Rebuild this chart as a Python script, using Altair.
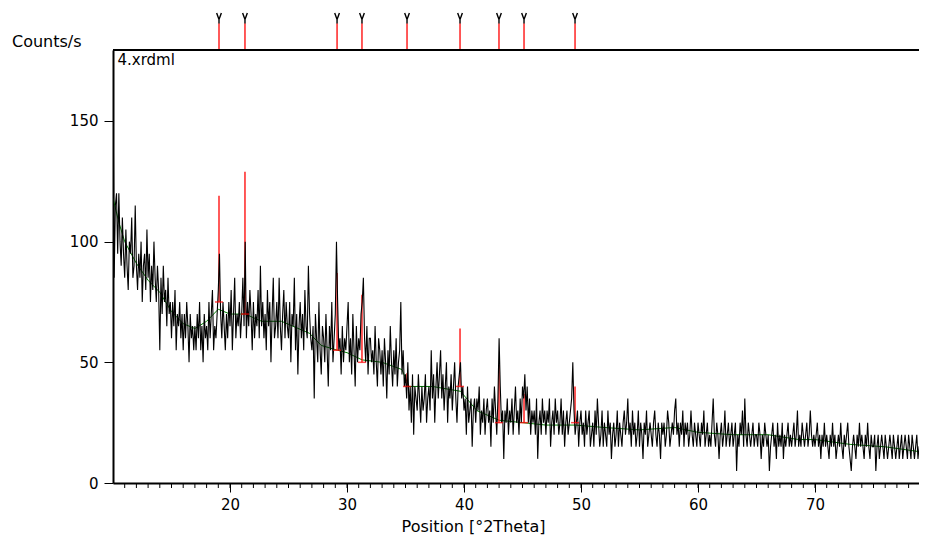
import altair as alt
import pandas as pd

# ---------------- data ----------------
start_2theta = 10.0
step_2theta = 0.1
counts = [
    170, 85, 115, 120, 95, 120, 100, 90, 110, 95,
    85, 105, 90, 80, 100, 95, 110, 85, 90, 115,
    90, 80, 95, 85, 100, 75, 90, 95, 80, 105,
    85, 95, 75, 90, 80, 100, 85, 75, 90, 80,
    55, 85, 70, 90, 75, 80, 65, 85, 70, 75,
    60, 75, 65, 80, 55, 70, 65, 75, 60, 70,
    55, 70, 60, 75, 65, 50, 70, 60, 65, 55,
    65, 55, 70, 60, 75, 55, 65, 50, 70, 60,
    65, 55, 75, 60, 70, 80, 55, 65, 60, 70,
    80, 95, 70, 60, 75, 65, 55, 70, 60, 75,
    65, 80, 55, 70, 85, 60, 70, 65, 75, 60,
    70, 85, 65, 100, 60, 75, 65, 80, 70, 55,
    75, 60, 70, 65, 80, 60, 90, 65, 75, 60,
    70, 55, 80, 65, 75, 50, 70, 85, 60, 65,
    75, 60, 85, 65, 55, 70, 80, 60, 75, 65,
    60, 75, 50, 70, 65, 85, 55, 70, 45, 65,
    75, 60, 70, 55, 80, 65, 60, 90, 70, 60,
    55, 65, 35, 70, 60, 50, 75, 55, 45, 65,
    60, 50, 70, 55, 40, 65, 55, 75, 50, 60,
    70, 100, 75, 55, 60, 45, 65, 50, 60, 55,
    65, 75, 50, 60, 45, 70, 55, 40, 65, 50,
    60, 55, 70, 75, 85, 60, 50, 65, 45, 60,
    60, 50, 55, 45, 65, 50, 40, 60, 55, 45,
    55, 40, 60, 50, 35, 55, 45, 65, 50, 40,
    55, 45, 60, 40, 50, 55, 75, 45, 55, 40,
    45, 35, 50, 30, 40, 25, 45, 20, 40, 35,
    30, 45, 35, 25, 40, 30, 35, 45, 25, 35,
    40, 30, 55, 35, 45, 25, 40, 50, 35, 45,
    55, 35, 45, 30, 40, 50, 25, 40, 35, 45,
    30, 40, 50, 35, 25, 40, 45, 50, 35, 40,
    30, 35, 20, 40, 25, 30, 35, 15, 30, 35,
    25, 35, 30, 40, 20, 30, 25, 35, 20, 30,
    35, 25, 30, 15, 35, 25, 40, 30, 20, 35,
    60, 40, 25, 30, 10, 30, 25, 35, 20, 30,
    25, 35, 20, 30, 40, 25, 30, 20, 35, 25,
    40, 35, 45, 30, 40, 25, 35, 20, 30, 25,
    30, 20, 35, 10, 25, 30, 20, 35, 25, 30,
    20, 30, 25, 35, 15, 25, 30, 20, 35, 25,
    30, 20, 25, 35, 20, 30, 15, 25, 30, 20,
    25, 30, 35, 50, 30, 20, 25, 30, 15, 25,
    30, 20, 25, 15, 30, 20, 25, 30, 15, 20,
    25, 15, 30, 20, 35, 25, 15, 20, 30, 15,
    25, 20, 15, 30, 20, 25, 10, 20, 25, 15,
    20, 30, 15, 25, 20, 15, 25, 30, 20, 25,
    35, 20, 25, 15, 30, 20, 25, 15, 20, 30,
    15, 25, 20, 10, 25, 20, 30, 15, 20, 25,
    20, 15, 25, 30, 20, 15, 25, 20, 10, 25,
    20, 25, 15, 20, 30, 25, 15, 20, 25, 20,
    30, 35, 20, 25, 15, 25, 20, 30, 15, 25,
    20, 25, 15, 20, 30, 20, 15, 25, 20, 15,
    25, 20, 15, 25, 20, 30, 15, 20, 25, 15,
    20, 15, 25, 35, 20, 15, 25, 20, 10, 20,
    25, 15, 20, 30, 15, 20, 25, 15, 20, 25,
    15, 20, 25, 5, 20, 15, 25, 20, 30, 15,
    35, 20, 15, 25, 20, 15, 20, 25, 15, 20,
    20, 15, 25, 20, 10, 20, 15, 25, 20, 15,
    20, 5, 15, 20, 25, 15, 20, 10, 25, 15,
    20, 15, 25, 10, 20, 15, 20, 25, 15, 20,
    15, 20, 25, 15, 20, 30, 15, 20, 15, 25,
    20, 15, 20, 25, 15, 20, 30, 20, 15, 20,
    15, 20, 25, 15, 20, 10, 20, 15, 25, 15,
    20, 15, 10, 20, 15, 25, 15, 20, 10, 15,
    20, 15, 25, 15, 10, 20, 15, 20, 25, 15,
    10, 5, 15, 20, 15, 10, 20, 15, 25, 15,
    20, 15, 10, 20, 15, 25, 15, 10, 20, 15,
    15, 20, 5, 15, 20, 10, 15, 20, 15, 10,
    20, 15, 10, 15, 20, 15, 10, 20, 15, 10,
    15, 20, 10, 15, 20, 10, 15, 20, 15, 10,
    20, 15, 10, 20, 15, 10, 15, 20, 10, 15,
    15, 10, 20, 15, 10, 15, 20,
]

bg_pos = [10.0, 10.5, 11.0, 12.0, 13.0, 14.0, 15.0, 16.0, 17.0, 18.0, 19.0, 20.0,
          21.3, 22.7, 24.4, 26.8, 27.8, 29.2, 30.0, 31.3, 33.0, 34.7, 35.3, 37.3,
          39.7, 41.1, 43.0, 45.0, 47.0, 49.5, 52.0, 55.0, 58.0, 60.0, 63.0, 66.0,
          68.6, 70.0, 73.0, 76.0, 78.9, 80.0]
bg_counts = [118, 108, 100, 91, 84, 79, 71, 66, 64, 67, 72, 70,
             70, 67, 67, 62, 57, 55, 54, 51, 50, 47, 40, 40,
             38, 30, 26, 25, 24, 24, 23, 22, 23, 21, 20, 20,
             18, 18, 16, 15, 13, 13]

peak_pos = [19.06, 21.28, 29.15, 31.28, 35.13, 39.66, 42.99, 45.13, 49.49]
peak_top = [119, 129, 87, 78, 45.5, 64, 49, 37, 40]
peak_base = [75, 70, 55, 50, 40, 40, 25, 25, 25]

x_major = [20, 30, 40, 50, 60, 70]
x_minor = list(range(11, 79))
y_ticks = [0, 50, 100, 150]

W, H = 806, 433
X_MAX = 10 + W / 11.7
Y_MAX = 179.4

# ---------------- tables ----------------
scan = pd.DataFrame({
    "pos": [start_2theta + i * step_2theta for i in range(len(counts))],
    "counts": counts,
})
bg = pd.DataFrame({"pos": bg_pos, "counts": bg_counts})
peaks = pd.DataFrame({
    "pos": peak_pos, "top": peak_top, "base": peak_base,
    "mark_lo": [Y_MAX] * len(peak_pos),
    "mark_hi": [190.5] * len(peak_pos),
    "glyph": [192.6] * len(peak_pos),
})
minor = pd.DataFrame({"pos": x_minor})
one = pd.DataFrame({"name": ["4.xrdml"]})

FONT = "DejaVu Sans"
xs = alt.Scale(domain=[10, X_MAX], nice=False, zero=False)
ys = alt.Scale(domain=[0, Y_MAX], nice=False)

x_axis = alt.Axis(values=x_major, format="d", tickSize=9, tickWidth=1, labelPadding=5,
                  grid=False, domainWidth=2, domainColor="black", tickColor="black",
                  labelFontSize=15, labelFont=FONT, labelColor="black",
                  title="Position [°2Theta]", titleFontSize=16, titleFont=FONT,
                  titleFontWeight="normal", titleColor="black",
                  titleX=360, titleY=48, titleAnchor="start", titleAlign="center",
                  titleBaseline="alphabetic")
y_axis = alt.Axis(values=y_ticks, tickSize=9, tickWidth=1, labelPadding=6, grid=False,
                  domainWidth=2, domainColor="black", tickColor="black",
                  labelFontSize=15, labelFont=FONT, labelColor="black",
                  title="Counts/s", titleFontSize=16, titleFont=FONT,
                  titleFontWeight="normal", titleColor="black", titleAngle=0,
                  titleX=-101.5, titleY=-3.5, titleAlign="left",
                  titleBaseline="alphabetic", titleAnchor="start")

background = alt.Chart(bg).mark_line(color="#008000", strokeWidth=1, clip=True).encode(
    x=alt.X("pos:Q", scale=xs, axis=x_axis),
    y=alt.Y("counts:Q", scale=ys, axis=y_axis),
)

sticks = alt.Chart(peaks).mark_rule(color="#ff0000", strokeWidth=1.3).encode(
    x="pos:Q", y="top:Q", y2="base:Q")
bases = alt.Chart(peaks).mark_tick(color="#ff0000", orient="horizontal", size=8,
                                   thickness=1.5).encode(x="pos:Q", y="base:Q")

line = alt.Chart(scan).mark_line(color="black", strokeWidth=1.1, clip=True).encode(
    x="pos:Q", y="counts:Q")

top_rules = alt.Chart(peaks).mark_rule(color="#ff0000", strokeWidth=1.3).encode(
    x="pos:Q", y="mark_lo:Q", y2="mark_hi:Q")
glyphs = alt.Chart(peaks).mark_point(
    shape="M-0.45,-1L0,0.25L0.45,-1M0,0.25L0,1", size=110, filled=False,
    stroke="black", strokeWidth=1.4, opacity=1).encode(x="pos:Q", y="glyph:Q")

top_line = alt.Chart(one).mark_rule(color="black", strokeWidth=2).encode(
    x=alt.value(0), x2=alt.value(W), y=alt.value(0))

minor_ticks = alt.Chart(minor).mark_rule(color="black", strokeWidth=1).encode(
    x="pos:Q", y=alt.value(H), y2=alt.value(H + 5))

label = alt.Chart(one).mark_text(align="left", baseline="alphabetic",
                                 font=FONT, fontSize=15, color="black").encode(
    text="name:N", x=alt.value(4.5), y=alt.value(15))

chart = alt.layer(
    background, sticks, line, bases, top_rules, glyphs, top_line, minor_ticks, label
).properties(
    width=W, height=H,
    autosize=alt.AutoSizeParams(type="none"),
    padding={"left": 105, "top": 42, "right": 0, "bottom": 52},
    background="white",
).configure_view(stroke=None)

chart.save("out.html", embed_options={"renderer": "svg", "actions": False})
